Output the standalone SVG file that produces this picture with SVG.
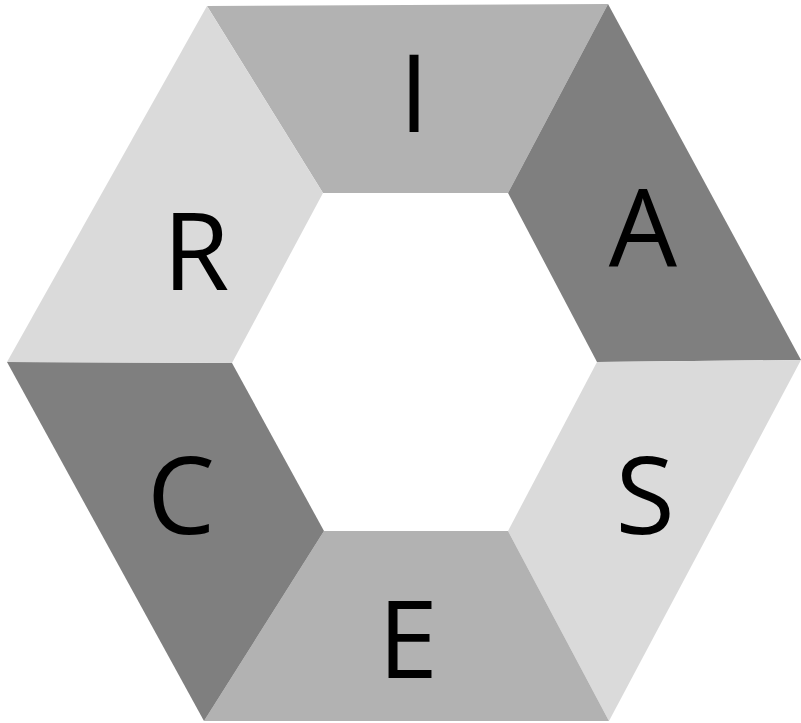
<svg xmlns="http://www.w3.org/2000/svg" width="801" height="723" viewBox="0 0 801 723">
<style>
.l{fill:#dadada}.m{fill:#b2b2b2}.d{fill:#7f7f7f}
text{font-family:"Open Sans","Liberation Sans",sans-serif;font-size:108px;fill:#000;text-anchor:middle}
</style>
<rect width="801" height="723" fill="#fff"/>
<g id="seg-I"><polygon class="m" points="207,6 608,4 508,193 323,193"/><text x="414" y="132">I</text></g>
<g id="seg-A"><polygon class="d" points="608,4 801,360 597,362 508,193"/><text x="643" y="267">A</text></g>
<g id="seg-S"><polygon class="l" points="801,360 609,721 508,531 597,362"/><text x="645" y="534">S</text></g>
<g id="seg-E"><polygon class="m" points="609,721 204,721 324,531 508,531"/><text x="408" y="678">E</text></g>
<g id="seg-C"><polygon class="d" points="204,721 7,362 232,363 324,531"/><text x="181" y="534">C</text></g>
<g id="seg-R"><polygon class="l" points="7,362 207,6 323,193 232,363"/><text x="196" y="290">R</text></g>
<g id="connectors"/>
</svg>
